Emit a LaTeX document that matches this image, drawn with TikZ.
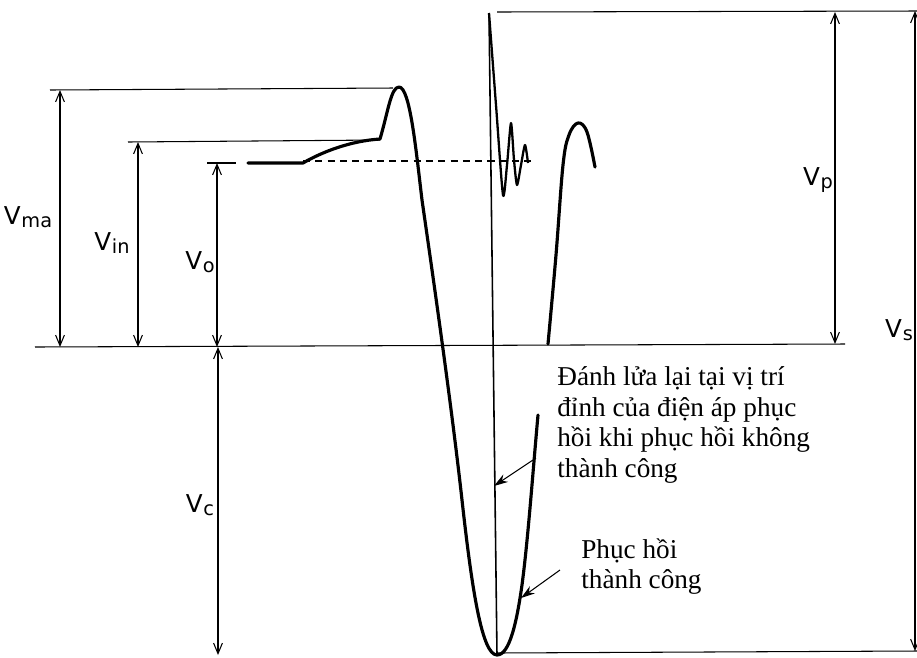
\documentclass[tikz,border=0pt]{standalone}
\usepackage{fontspec}
\setmainfont{Liberation Serif}
\setsansfont{DejaVu Sans}
\usetikzlibrary{arrows.meta,positioning}
\newcommand{\vsym}[1]{\textsf{V\kern0.03em\raisebox{-1.8pt}{\fontsize{11}{11}\selectfont #1}}}

\begin{document}
\begin{tikzpicture}[
  x=0.02cm, y=-0.02cm,
  thinln/.style={line width=0.6pt},
  wave/.style={line width=1.8pt, line cap=round, line join=round},
  dim/.style={line width=0.6pt, {Straight Barb[length=6pt,width=5pt]}-{Straight Barb[length=6pt,width=5pt]}},
  vlbl/.style={font=\fontsize{14}{14}\selectfont, inner sep=0pt},
  note/.style={font=\fontsize{15.5}{17.5}\selectfont, align=left, inner sep=0pt, anchor=north west},
  pointer/.style={line width=0.6pt, -{Stealth[length=8pt,width=5pt]}},
]
\useasboundingbox (0,0) rectangle (917,657);

% Reference levels
\draw[thinln] (35,347) -- (845,344);
\draw[thinln] (50,90) -- (393,88);
\draw[thinln] (128,142) -- (380,140);
\draw[thinln] (207,163) -- (236,163);
\draw[thinln] (497,12) -- (917,11);
\draw[thinln] (497,653) -- (917,651);
\draw[thinln, dash pattern=on 4pt off 3pt] (303,161) -- (535,161);

% Dimension arrows
\draw[dim] (60,90) -- (60,347);
\draw[dim] (138,142) -- (138,347);
\draw[dim] (217,163) -- (217,347);
\draw[dim] (218,347) -- (218,655);
\draw[dim] (835,12) -- (835,344);
\draw[dim] (915,11) -- (915,651);

% Labels
\node[vlbl] (vma) at (28,217) {\vsym{ma}};
\node[vlbl] (vin) at (112,243) {\vsym{in}};
\node[vlbl] (vo) at (200,262) {\vsym{o}};
\node[vlbl] (vc) at (200,505) {\vsym{c}};
\node[vlbl] (vp) at (818,180) {\vsym{p}};
\node[vlbl] (vs) at (899,330) {\vsym{s}};

% Voltage wave
\draw[wave] (248,163) -- (303,163) .. controls (322,152) and (350,141) .. (380,139)
  .. controls (388,112) and (391,87) .. (399,87) .. controls (410,87) and (416,150) .. (422,200)
  .. controls (435,290) and (452,410) .. (462,500) .. controls (472,590) and (482,655) .. (497,655)
  .. controls (510,655) and (517,620) .. (522,585) .. controls (528,540) and (533,470) .. (538,415);
\draw[wave] plot[smooth, tension=0.6] coordinates {(548,344) (556,255) (563,165) (569,135) (578,123) (587,132) (595,167)};

% Re-ignition
\draw[line width=0.9pt] (489,13) -- (497,655);
\draw[line width=1.3pt, line join=round] plot[smooth, tension=0.4] coordinates {(489,13) (496,105) (503,195) (507,165) (511,123) (514,160) (517,185) (521,165) (525,145) (528,163)};

% Notes
\node[note] (refire) at (557,366) {Đánh lửa lại tại vị trí\\đỉnh của điện áp phục\\hồi khi phục hồi không\\thành công};
\node[note] (okrec) at (581,538) {Phục hồi\\thành công};
\coordinate (refiretail) at (536,458);
\coordinate (refirept) at (494,486);
\coordinate (oktail) at (560,570);
\coordinate (okpt) at (521,598);
\draw[pointer] (refiretail) -- (refirept);
\draw[pointer] (oktail) -- (okpt);

\end{tikzpicture}
\end{document}
